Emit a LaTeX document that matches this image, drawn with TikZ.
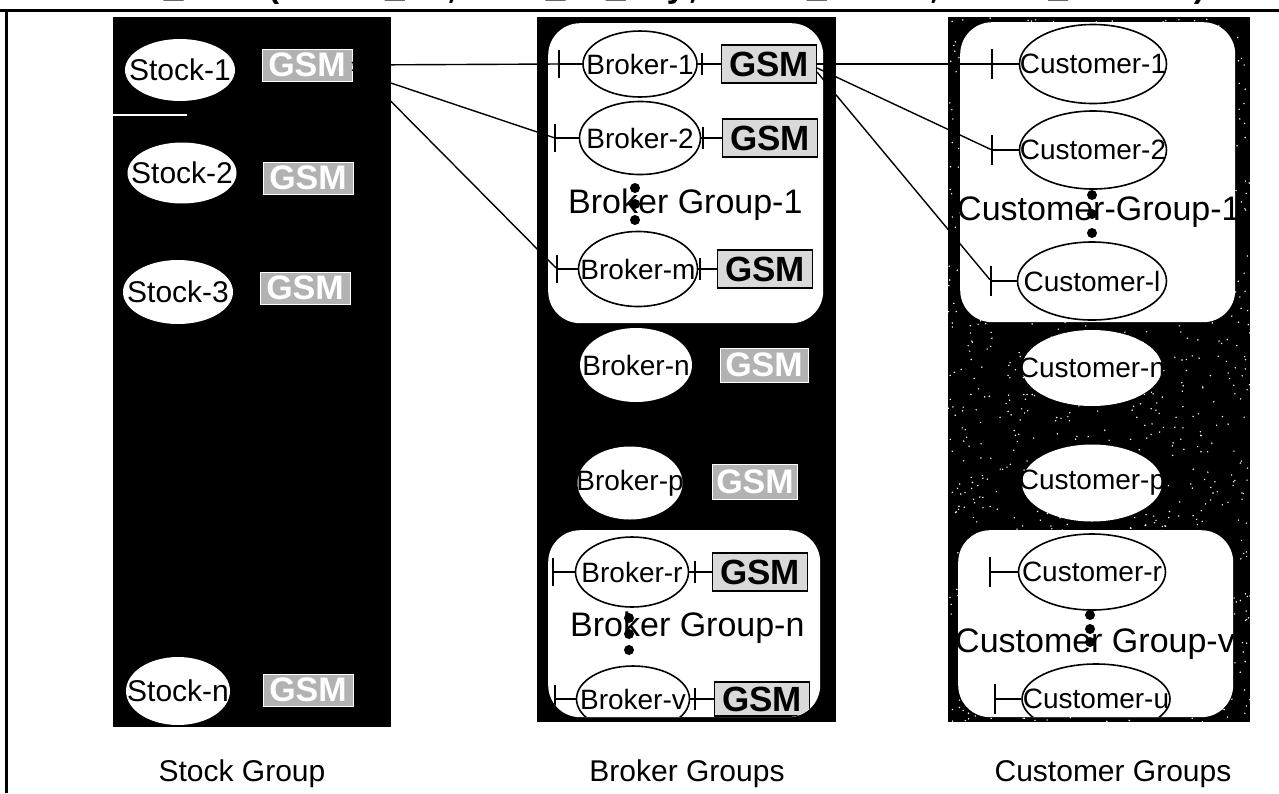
\documentclass[tikz,border=0pt]{standalone}
\usepackage{fontspec}
\setmainfont{Liberation Sans}
\newfontfamily\codefont{Liberation Mono}
\usetikzlibrary{shapes.geometric}

\newcommand\fsz[1]{\fontsize{#1}{#1}\selectfont}

\begin{document}
\begin{tikzpicture}[x=1pt,y=-1pt,
  panel/.style={rectangle, fill=black, inner sep=0pt},
  grp/.style={rectangle, fill=white, rounded corners=32pt, inner sep=0pt},
  ovaltext/.style={font=\fsz{#1}, inner sep=0pt},
  oval/.style n args={3}{ellipse, fill=white, draw=black, line width=1.6pt, inner sep=0pt,
    minimum width=#1pt, minimum height=#2pt, label={[ovaltext=28]center:#3}},
  ovalb/.style n args={3}{ellipse, fill=white, inner sep=0pt,
    minimum width=#1pt, minimum height=#2pt, label={[ovaltext=28]center:#3}},
  stockoval/.style n args={3}{ellipse, fill=white, inner sep=0pt,
    minimum width=#1pt, minimum height=#2pt, label={[ovaltext=30]center:#3}},
  gsmw/.style={rectangle, fill=gray!30, draw=black, line width=1.6pt, inner sep=0pt,
    minimum width=95pt, minimum height=38pt, font=\bfseries\fsz{35}},
  gsmb/.style={rectangle, fill=gray!60, draw=white, line width=1pt, inner sep=0pt,
    minimum width=90pt, minimum height=32pt, text=white, font=\bfseries\fsz{34}},
  tickbar/.style={rectangle, fill=black, inner sep=0pt, minimum width=1.8pt, minimum height=#1pt},
  tickbar/.default=28,
  link/.style={line width=1.4pt},
  grouplabel/.style={font=\fsz{34}, anchor=base west, inner sep=0pt},
  caption/.style={font=\fsz{30}, inner sep=0pt},
  dot/.style={circle, fill=black, inner sep=0pt, minimum size=10pt},
]
\useasboundingbox (0,0) rectangle (1279,793);

% header line, partly cut by the page edge
\node[anchor=base west, inner sep=0pt, font=\codefont\bfseries\fsz{33.5}] (hdr) at (-4,-3)
  {s: Stock\_info(Stock\_id,time\_of\_day,stock\_value,stock\_volume)};
\draw[line width=3pt] (0,10) -- (1279,10);
\draw[line width=3pt] (6,10) -- (6,793);

% ---------- three columns ----------
\node[panel, anchor=north west, minimum width=278pt, minimum height=710pt] (stockpanel) at (113,17) {};
\node[panel, anchor=north west, minimum width=299pt, minimum height=705pt] (brokerpanel) at (537,17) {};
\node[panel, anchor=north west, minimum width=302pt, minimum height=705pt] (custpanel) at (948,17) {};

% speckle on the customer column
\pgfmathsetseed{42}
\foreach \i in {1,...,1300}{
  \pgfmathsetmacro\sx{948+302*rnd}
  \pgfmathsetmacro\sy{17+705*rnd}
  \fill[white] (\sx,\sy) circle (0.8pt);
}

\draw[white, line width=1.2pt] (113,115) -- (187,115);

% white group areas
\node[grp, anchor=north west, minimum width=275pt, minimum height=300pt] (bgrp1) at (548,23) {};
\node[grp, anchor=north west, minimum width=272pt, minimum height=187pt] (bgrpn) at (548,530) {};
\node[grp, anchor=north west, minimum width=275pt, minimum height=300pt] (cgrp1) at (960,22) {};
\node[grp, anchor=north west, minimum width=275pt, minimum height=187pt] (cgrpv) at (958,530) {};

% ---------- stock group ----------
\node[stockoval={110}{62}{Stock-1}] (s1) at (180,70) {};
\node[gsmb] (s1g) at (307,65) {GSM};
\node[stockoval={109}{61}{Stock-2}] (s2) at (182,173) {};
\node[gsmb] (s2g) at (308,178) {GSM};
\node[stockoval={110}{64}{Stock-3}] (s3) at (178,292) {};
\node[gsmb] (s3g) at (305,288) {GSM};
\node[stockoval={104}{68}{Stock-n}] (sn) at (178,691) {};
\node[gsmb] (sng) at (308,690) {GSM};

% ---------- broker groups ----------
\node[oval={114}{66}{Broker-1}] (b1) at (640,64) {};
\node[gsmw] (b1g) at (769,64) {GSM};
\node[oval={121}{73}{Broker-2}] (b2) at (640,138) {};
\node[gsmw] (b2g) at (770,138) {GSM};
\node[oval={119}{75}{Broker-m}] (bm) at (638,269) {};
\node[gsmw] (bmg) at (765,269) {GSM};
\node[grouplabel] (bgrp1t) at (568,213) {Broker Group-1};
\node[dot] (bd1) at (635,188) {};
\node[dot] (bd2) at (635,204) {};
\node[dot] (bd3) at (635,220) {};

\node[ovalb={112}{74}{Broker-n}] (bn) at (636,365) {};
\node[gsmb, minimum width=88pt, minimum height=34pt] (bng) at (764,365) {GSM};
\node[ovalb={105}{73}{Broker-p}] (bp) at (630,483) {};
\node[gsmb, minimum width=85pt, minimum height=35pt] (bpg) at (755,482) {GSM};

\begin{scope}
  \clip[rounded corners=32pt] (548,530) rectangle (820,717);
  \node[oval={113}{70}{Broker-r}] (br) at (632,572) {};
  \node[gsmw] (brg) at (760,572) {GSM};
  \node[grouplabel] (bgrpnt) at (570,636) {Broker Group-n};
  \node[dot] (bd4) at (629,618) {};
  \node[dot] (bd5) at (629,634) {};
  \node[dot] (bd6) at (629,650) {};
  \node[oval={113}{66}{Broker-v}] (bv) at (633,699) {};
  \node[gsmw, minimum height=34pt] (bvg) at (762,699) {GSM};
  \node[tickbar] (brl) at (553,572) {};
  \node[tickbar=22] (brr) at (695,572) {};
  \node[tickbar] (bvl) at (555,699) {};
  \node[tickbar=22] (bvr) at (695,699) {};
  \foreach \e in {br,bv}{
    \draw[link] (\e l) -- (\e);
    \draw[link] (\e.east) -- (\e g.west);
  }
\end{scope}

% bars in front of and behind each grouped broker
\node[tickbar] (b1l) at (559,64) {};
\node[tickbar=22] (b1r) at (702,64) {};
\node[tickbar] (b2l) at (555,138) {};
\node[tickbar=22] (b2r) at (703,138) {};
\node[tickbar] (bml) at (557,269) {};
\node[tickbar=22] (bmr) at (700,269) {};
\foreach \e in {b1,b2,bm}{
  \draw[link] (\e l) -- (\e);
  \draw[link] (\e.east) -- (\e g.west);
}

% ---------- customer groups ----------
\node[oval={147}{79}{Customer-1}] (c1) at (1093,64) {};
\node[oval={147}{78}{Customer-2}] (c2) at (1093,150) {};
\node[oval={149}{78}{Customer-l}] (cl) at (1092,281) {};
\node[grouplabel] (cgrp1t) at (957,220) {Customer-Group-1};
\node[dot] (cd1) at (1092,195) {};
\node[dot] (cd2) at (1092,214) {};
\node[dot] (cd3) at (1092,233) {};

\node[ovalb={140}{76}{Customer-n}] (cn) at (1092,368) {};
\node[ovalb={140}{77}{Customer-p}] (cp) at (1092,483) {};

\begin{scope}
  \clip[rounded corners=32pt] (958,530) rectangle (1233,717);
  \node[oval={147}{76}{Customer-r}] (cr) at (1092,572) {};
  \node[grouplabel] (cgrpvt) at (955,652) {Customer Group-v};
  \node[dot] (cd4) at (1090,615) {};
  \node[dot] (cd5) at (1090,629) {};
  \node[dot] (cd6) at (1090,642) {};
  \node[oval={148}{70}{Customer-u}] (cu) at (1096,699) {};
  \node[tickbar=30] (crl) at (990,572) {};
  \node[tickbar=30] (cul) at (995,699) {};
  \foreach \e in {cr,cu}{
    \draw[link] (\e l) -- (\e);
  }
\end{scope}

\node[tickbar=30] (c1l) at (992,64) {};
\node[tickbar=30] (c2l) at (992,150) {};
\node[tickbar=30] (cll) at (991,281) {};
\foreach \e in {c1,c2,cl}{
  \draw[link] (\e l) -- (\e);
}

% ---------- links between the columns ----------
\coordinate (s1o2) at (352,70);
\coordinate (s1o3) at (352,62);
\draw[link] (s1g.east) -- (b1l);
\draw[link] (s1o2) -- (b2l);
\draw[link] (s1o3) -- (bml);

\coordinate (b1o2) at (817,68);
\coordinate (b1o3) at (817,72);
\draw[link] (b1g.east) -- (c1l);
\draw[link] (b1o2) -- (c2l);
\draw[link] (b1o3) -- (cll);

% ---------- captions ----------
\node[caption] (capS) at (242,774) {Stock Group};
\node[caption] (capB) at (687,774) {Broker Groups};
\node[caption] (capC) at (1113,774) {Customer Groups};
\end{tikzpicture}
\end{document}
